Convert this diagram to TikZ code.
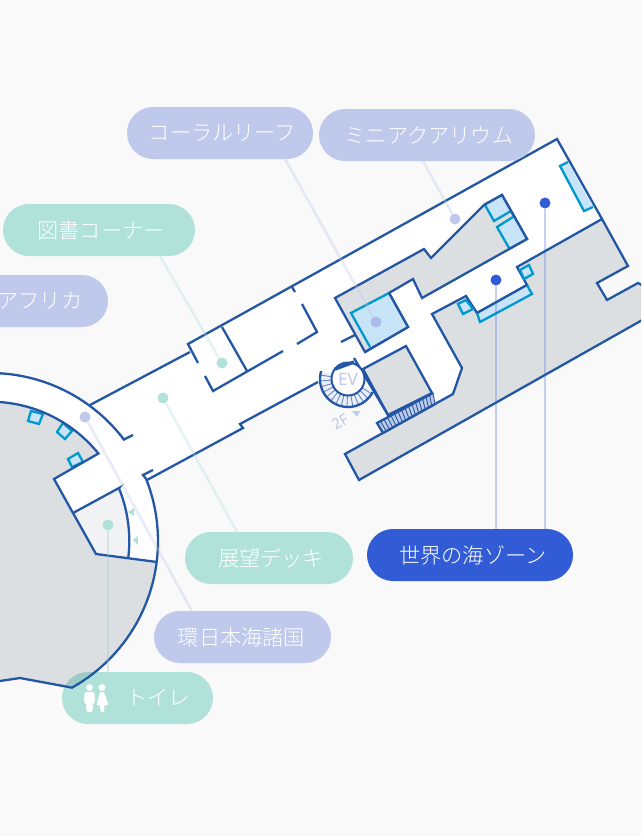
\documentclass[tikz,border=0pt]{standalone}
\usepackage{fontspec}
\setmainfont{Noto Sans}
\newfontfamily\cjk{Noto Sans CJK JP Light}
\definecolor{bgc}{HTML}{F9F9F9}
\definecolor{wallc}{HTML}{2357A5}
\definecolor{cyanc}{HTML}{0099CF}
\definecolor{roomc}{HTML}{C8E4F8}
\definecolor{grayc}{HTML}{DCDFE2}
\definecolor{lightg}{HTML}{F0F2F3}
\definecolor{lav}{HTML}{BEC9EC}
\definecolor{teal2}{HTML}{B0E2DA}
\definecolor{teal3}{HTML}{9DCBC5}
\definecolor{blue2}{HTML}{325CD6}
\newcommand\outerto[2]{-- plot[domain=#1:#2,samples=40] ({-10+168*cos(\x)},{541+168*sin(\x)})}
\newcommand\innerto[2]{-- plot[domain=#1:#2,samples=40] ({-10+139.3*cos(\x)},{541+139.3*sin(\x)})}
\newcommand\grayring{(-20,400) \innerto{-98}{-38.9} -- (54,479) -- (73,513) -- (96,554) -- (157,562) \outerto{7.2}{60.8} -- (20,678) -- (-20,684) -- cycle}
\newcommand\lbl[1]{\raisebox{-2pt}{#1}}
\tikzset{
  wall/.style={draw=wallc,line width=2.3pt},
  cwall/.style={draw=cyanc,line width=2.3pt},
  block/.style={fill=grayc},
  croom/.style={fill=roomc},
  pill/.style={rectangle,rounded corners=26pt,minimum height=52pt,inner sep=0pt,text=white,font=\cjk\fontsize{21.2}{21.2}\selectfont},
  dot/.style={circle,inner sep=0pt,minimum size=#1},
  dot/.default=11pt,
  leadL/.style={draw=lav,line width=2.6pt,opacity=.35},
  leadT/.style={draw=teal2,line width=2.6pt,opacity=.35},
  leadB/.style={draw=blue2,line width=2.6pt,opacity=.27},
}
\begin{document}
\begin{tikzpicture}[x=1pt,y=-1pt]
\fill[bgc] (0,0) rectangle (641,836);
\clip (0,0) rectangle (641,836);
% toilet pill lies under the building
\node[pill,fill=teal2,minimum width=151pt] (ptoilet) at (137.5,698) {\hspace*{41pt}\lbl{トイレ}};
% floor
\fill[white] (-20,372) \outerto{-95}{-53.7} -- (190,352) -- (188,344) -- (557,139) -- (602,219) -- (517,267) -- (527,285) -- (477,313) -- (466,296) -- (432,314) -- (462,368) -- (453,394) -- (437,403) -- (432,393) -- (406,346) -- (363,369) -- (348,379) -- (318,382) -- (240,424) -- (243,428) -- (147,480) \outerto{-21.2}{7.2} -- (-20,560) -- cycle;
% grey masses
\fill[block] \grayring;
\begin{scope}
\clip \grayring;
\fill[teal3,rounded corners=26pt] (62,672) rectangle (213,724);
\end{scope}
\fill[lightg] (73,513) -- (119,488) \innerto{-22.3}{7} -- (96,554) -- cycle;
\path[block,wall] (602,219) -- (628,266) -- (597,283) -- (607,300) -- (638,283) -- (660,295) -- (660,310) -- (359,480) -- (345,454) -- (453,394) -- (462,368) -- (432,314) -- (466,296) -- (477,313) -- (527,285) -- (517,267) -- cycle;
\path[block,wall] (335,298) -- (424,249) -- (431,258) -- (484,205) -- (502,195) -- (527,239) -- (422,298) -- (413,279) -- (389,293) -- (408,327) -- (365,352) -- cycle;
\path[block,wall] (363,369) -- (406,346) -- (432,393) -- (388,415) -- cycle;
% blue rooms
\fill[croom] (351,313) -- (389,293) -- (408,327) -- (370,347) -- cycle;
\draw[cwall] (370,347) -- (351,313) -- (389,293);
\draw[wall] (389,293) -- (408,327) -- (365,352);
\fill[croom] (485,205) -- (502,195) -- (511,211) -- (494,221) -- cycle;
\draw[cwall] (511,211) -- (494,221) -- (485,205);
\fill[croom] (497,227) -- (513,217) -- (527,239) -- (509,248) -- cycle;
\draw[cwall] (513,217) -- (497,227) -- (509,248);
\draw[wall] (484,205) -- (502,195) -- (527,239) -- (509,249);
\path[croom,cwall] (568,162) -- (560,166) -- (584,211) -- (593,207);
\path[croom,cwall] (477,313) -- (480,322) -- (532,294) -- (527,285);
\draw[wall] (477,313) -- (527,285);
\path[croom,cwall] (520,270) -- (529,265) -- (533,274) -- (524,279) -- cycle;
\path[croom,cwall] (458,304) -- (466,300) -- (473,309) -- (463,314) -- cycle;
\path[croom,cwall] (31,411) -- (43,414) -- (39,424) -- (28,421) -- cycle;
\path[croom,cwall] (63,423) -- (72,431) -- (65,439) -- (57,432) -- cycle;
\path[croom,cwall] (68,459) -- (78,453) -- (83,462) -- (72,467) -- cycle;
% walls
\draw[wall] (90,405) -- (190,352);
\draw[wall] (198,363) -- (188,344) -- (557,139) -- (602,219);
\draw[wall] (292,287) -- (295,292);
\draw[wall] (205,376) -- (213,391) -- (283,351);
\draw[wall] (222,327) -- (247,371);
\draw[wall] (302,304) -- (317,332) -- (297,344);
\draw[wall] (341,342) -- (355,335);
\draw[wall] (153,470) -- (143,475) -- (147,480) -- (243,428) -- (240,424) -- (318,382);
\draw[wall] (123,440) -- (133,435);
\draw[wall] (-20,372) \outerto{-95}{-37.2};
\draw[wall] (147,480) \outerto{-21.2}{60.8} -- (20,678) -- (-20,684);
\draw[wall] (-20,400) \innerto{-98}{-38.9} -- (54,479) -- (73,513) -- (96,554) -- (157,562);
\draw[wall] (73,513) -- (119,488) \innerto{-22.3}{7};
% main stairs
\fill[lav!70!wallc!60] (377,423) -- (433,393) -- (435,404) -- (383,433) -- cycle;
\foreach \t in {0,0.0625,...,1.01} {
  \draw[wallc,line width=.9pt] ({377+56*\t},{423-30*\t}) -- ({383+52*\t},{433-29*\t});
}
\draw[wall] (433,393) -- (377,423) -- (383,433) -- (435,404);
\draw[wall] (354,358) -- (388,415);
% spiral stairs and lift
\fill[white] (321,371) -- plot[domain=196:28,samples=40] ({348+28*cos(\x)},{379+28*sin(\x)}) -- (348,379) -- cycle;
\fill[lav!30] (321,371) -- plot[domain=196:28,samples=40] ({348+28*cos(\x)},{379+28*sin(\x)}) -- (348,379) -- cycle;
\foreach \a in {32,44,...,190} {
  \draw[wallc!70!white,line width=.9pt] ({348+16*cos(\a)},{379+16*sin(\a)}) -- ({348+28*cos(\a)},{379+28*sin(\a)});
}
\draw[wall] (321,371) -- plot[domain=196:28,samples=40] ({348+28*cos(\x)},{379+28*sin(\x)});
\node[circle,fill=white,draw=wallc,line width=2pt,minimum size=33pt,inner sep=0pt,text=lav,font=\fontsize{17}{17}\selectfont] (ev) at (348,379) {EV};
\draw[wallc,line width=3.4pt] (335,369) -- (354,362);
\node[text=lav,rotate=30,inner sep=0pt,font=\fontsize{15}{15}\selectfont] (twof) at (340,422) {2F};
\fill[lav] (352,411) -- (360,411) -- (357,417) -- cycle;
% arrows
\fill[teal2] (128,512) -- (134,508) -- (134,516) -- cycle;
\fill[teal2] (133,540) -- (138,536) -- (138,545) -- cycle;
% dots
\node[dot,fill=lav!60!blue2!70!white] (dcoral) at (376,322) {};
\node[dot,fill=lav] (dmini) at (455,219) {};
\node[dot,fill=teal2] (dlib) at (222,363) {};
\node[dot,fill=teal2] (ddeck) at (163,398) {};
\node[dot,fill=blue2] (dsea) at (496,280) {};
\node[dot,fill=blue2] (dseb) at (545,203) {};
\node[dot,fill=lav] (dring) at (85,417) {};
\node[dot,fill=teal2] (dtoi) at (108,525) {};
% pills
\node[pill,fill=lav,minimum width=186pt] (pcoral) at (220,133) {\hspace*{5pt}\lbl{コーラルリーフ}};
\node[pill,fill=lav,minimum width=216pt] (pmini) at (427,135) {\hspace*{4pt}\lbl{ミニアクアリウム}};
\node[pill,fill=teal2,minimum width=192pt] (plib) at (99,230) {\hspace*{4pt}\lbl{図書コーナー}};
\node[pill,fill=lav,minimum width=168pt] (pafr) at (24,301) {\hspace*{32pt}\lbl{アフリカ}};
\node[pill,fill=teal2,minimum width=168pt] (pdeck) at (269,558) {\hspace*{4pt}\lbl{展望デッキ}};
\node[pill,fill=blue2,minimum width=206pt] (psea) at (470,555) {\hspace*{6pt}\lbl{世界の海ゾーン}};
\node[pill,fill=lav,minimum width=177pt] (pring) at (242.5,637) {\hspace*{-2pt}\lbl{環日本海諸国}};
% leader ends on pill edges
\coordinate (ecoral) at (285,159);
\coordinate (emini) at (423,161);
\coordinate (elib) at (160,256);
\coordinate (edeck) at (237,532);
\coordinate (esea) at (496,529);
\coordinate (eseb) at (545,529);
\coordinate (ering) at (192,611);
\coordinate (etoi) at (108,672);
\draw[leadL] (dcoral) -- (ecoral);
\draw[leadL] (dmini) -- (emini);
\draw[leadT] (dlib) -- (elib);
\draw[leadT] (ddeck) -- (edeck);
\draw[leadB] (dsea) -- (esea);
\draw[leadB] (dseb) -- (eseb);
\draw[leadL] (dring) -- (ering);
\draw[leadT,draw=teal3] (dtoi) -- (etoi);
% WC icon
\fill[white] (89.5,687.5) circle[radius=3.4pt];
\fill[white] (102,687.5) circle[radius=3.4pt];
\fill[white,rounded corners=1.5pt] (84.5,692) -- (94.5,692) -- (95,703) -- (93,703) -- (92.5,712) -- (86.5,712) -- (86,703) -- (84,703) -- cycle;
\fill[white,rounded corners=.8pt] (100,692) -- (104,692) -- (108.5,705) -- (104.5,705) -- (104,712) -- (100.5,712) -- (100,705) -- (96.5,705) -- cycle;
\end{tikzpicture}
\end{document}
